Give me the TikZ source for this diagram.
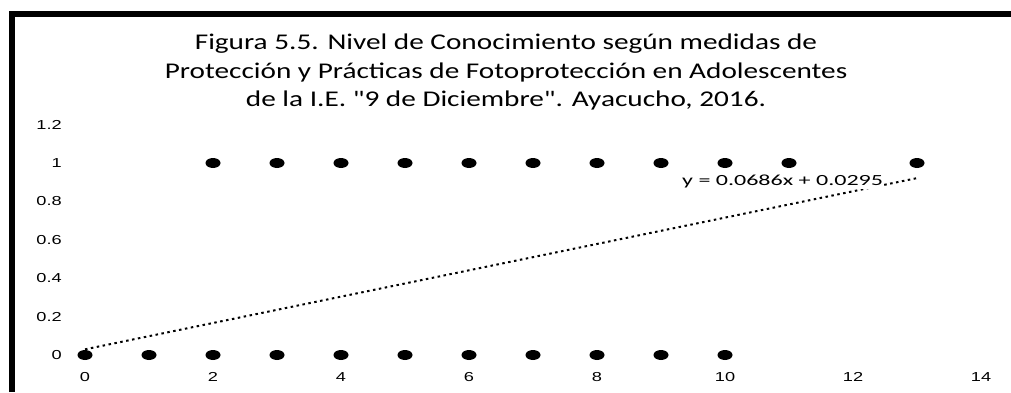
\documentclass[tikz,border=0pt]{standalone}
\usepackage{fontspec}
\setmainfont{Carlito}
\newfontfamily\titlefont[FakeStretch=1.3]{Carlito}
\newfontfamily\tickfont[FakeStretch=1.4]{Liberation Sans}
\newfontfamily\eqfont[FakeStretch=1.55]{Carlito}
\usetikzlibrary{positioning}
\usetikzlibrary{shapes}

\begin{document}
\begin{tikzpicture}[x=1pt, y=1pt, every node/.style={inner sep=0pt},
        dot/.style={ellipse, fill=black, minimum width=15pt, minimum height=10pt},
        tick/.style={font=\tickfont\fontsize{13}{13}\selectfont}]
    \useasboundingbox (0,0) rectangle (1011,392);
    % frame
    \draw[line width=6pt] (11.5,0) -- (11.5,377.5) -- (1011,377.5);
    \node[align=center, font=\titlefont\fontsize{22.5}{28.5}\selectfont] (title) at (506,320)
        {Figura 5.5. Nivel de Conocimiento según medidas de\\
         Protección y Prácticas de Fotoprotección en Adolescentes\\
         de la I.E. \symbol{34}9 de Diciembre\symbol{34}. Ayacucho, 2016.};

    \begin{scope}[shift={(85,37)}, x=64pt, y=192pt]
        % axis labels
        \foreach \v/\t in {0/0, 1/0.2, 2/0.4, 3/0.6, 4/0.8, 5/1, 6/1.2}
            \node[tick, anchor=east] (yl\v) at (-0.36, \v*0.2) {\t};
        \foreach \v in {0,2,...,14}
            \node[tick] (xl\v) at (\v, -0.115) {\v};

        % points
        \foreach \i in {0,...,10}
            \node[dot] (b\i) at (\i, 0) {};
        \foreach \i in {2,...,11,13}
            \node[dot] (u\i) at (\i, 1) {};

        % trend line
        \coordinate (t0) at (0, 0.0295);
        \coordinate (t1) at (13, 0.9213);
        \draw[line width=2pt, dash pattern=on 2.5pt off 3.5pt] (t0) -- (t1);
        \node[font=\eqfont\fontsize{15.5}{15.5}\selectfont, fill=white, inner sep=1pt] (eq) at (10.9, 0.905) {y = 0.0686x + 0.0295};
    \end{scope}
\end{tikzpicture}
\end{document}
